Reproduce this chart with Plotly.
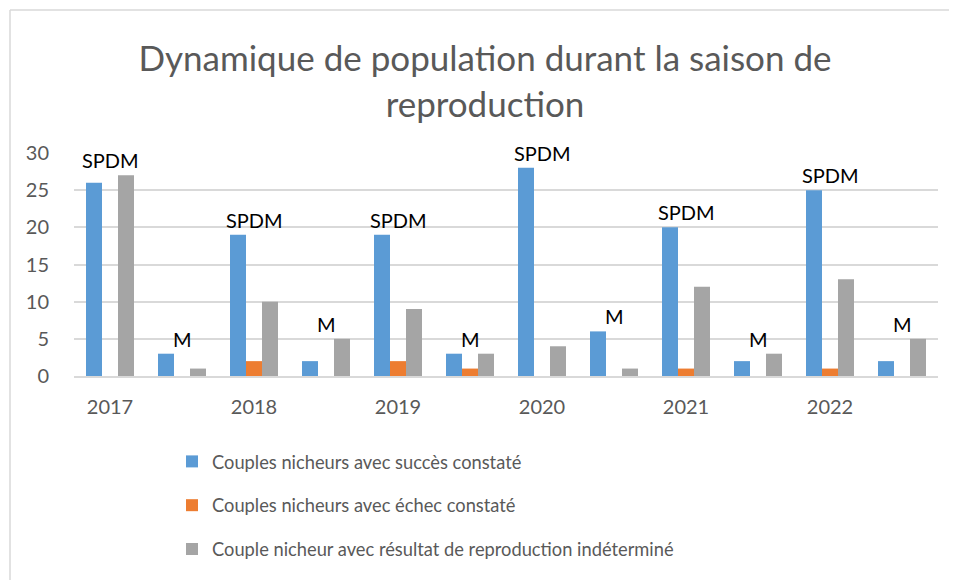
import plotly.graph_objects as go

years = ["2017", "2018", "2019", "2020", "2021", "2022"]
groups = ["SPDM", "M"] * 6
succes = [26, 3, 19, 2, 19, 3, 28, 6, 20, 2, 25, 2]
echec = [0, 0, 2, 0, 2, 1, 0, 0, 1, 0, 1, 0]
indetermine = [27, 1, 10, 5, 9, 3, 4, 1, 12, 3, 13, 5]

series_names = [
    "Couples nicheurs avec succès constaté",
    "Couples nicheurs avec échec constaté",
    "Couple nicheur avec résultat de reproduction indéterminé",
]
colors = ["#5B9BD5", "#ED7D31", "#A5A5A5"]

x = list(range(len(groups)))
FONT = "Lato"
GREY = "#595959"

# page offset of the figure inside the browser window (body margin)
OFF = 8
PL, PR, PT, PB = 74 - OFF, 938 - OFF, 153 - OFF, 376 - OFF  # plot area in figure px
PW, PH = PR - PL, PB - PT

fig = go.Figure()
for i, (name, vals, col) in enumerate(zip(series_names, [succes, echec, indetermine], colors)):
    fig.add_trace(go.Bar(x=x, y=vals, name=name, marker=dict(color=col, line=dict(width=0)),
                         legendgroup=f"g{i}"))

for xi, g, a, b, c in zip(x, groups, succes, echec, indetermine):
    fig.add_annotation(x=xi, y=max(a, b, c), text=g, showarrow=False, yanchor="bottom",
                       yshift=1, font=dict(family=FONT, size=20, color="#000000"))

# chart border (top and left visible)
bx = (10 - 74) / PW
ty = (376 - 10) / PH
fig.add_shape(type="line", xref="paper", yref="paper", x0=bx, x1=1.3, y0=ty, y1=ty,
              line=dict(color="#D9D9D9", width=1.5))
fig.add_shape(type="line", xref="paper", yref="paper", x0=bx, x1=bx, y0=-1.3, y1=ty,
              line=dict(color="#D9D9D9", width=1.5))

fig.update_layout(
    width=957, height=580,
    margin=dict(l=PL, r=957 - PR, t=PT, b=580 - PB, autoexpand=False),
    paper_bgcolor="white", plot_bgcolor="white",
    title=dict(text="Dynamique de population durant la saison de<br>reproduction",
               x=477 / 957, xanchor="center", xref="container",
               y=1 - 63 / 580, yanchor="top", yref="container",
               font=dict(family=FONT, size=35, color=GREY)),
    barmode="group", bargap=1/3, bargroupgap=0,
    showlegend=True,
    legend=dict(orientation="v", x=(172 - 74) / PW, xanchor="left",
                y=-(443 - 376) / PH, yanchor="top", tracegroupgap=17,
                font=dict(family=FONT, size=18.3, color=GREY), bgcolor="rgba(0,0,0,0)"),
    xaxis=dict(range=[-0.5, 11.5], tickmode="array", tickvals=x[::2], ticktext=years,
               showgrid=False, zeroline=False, showline=True, linecolor="#D9D9D9", linewidth=1.5,
               ticks="", tickfont=dict(family=FONT, size=20, color=GREY), ticklabelstandoff=12),
    yaxis=dict(range=[0, 30], dtick=5, showgrid=True, gridcolor="#D9D9D9", gridwidth=1.5,
               zeroline=False, showline=False, ticks="",
               tickfont=dict(family=FONT, size=20, color=GREY), ticklabelstandoff=24),
    font=dict(family=FONT),
)

fig.write_html("out.html")
